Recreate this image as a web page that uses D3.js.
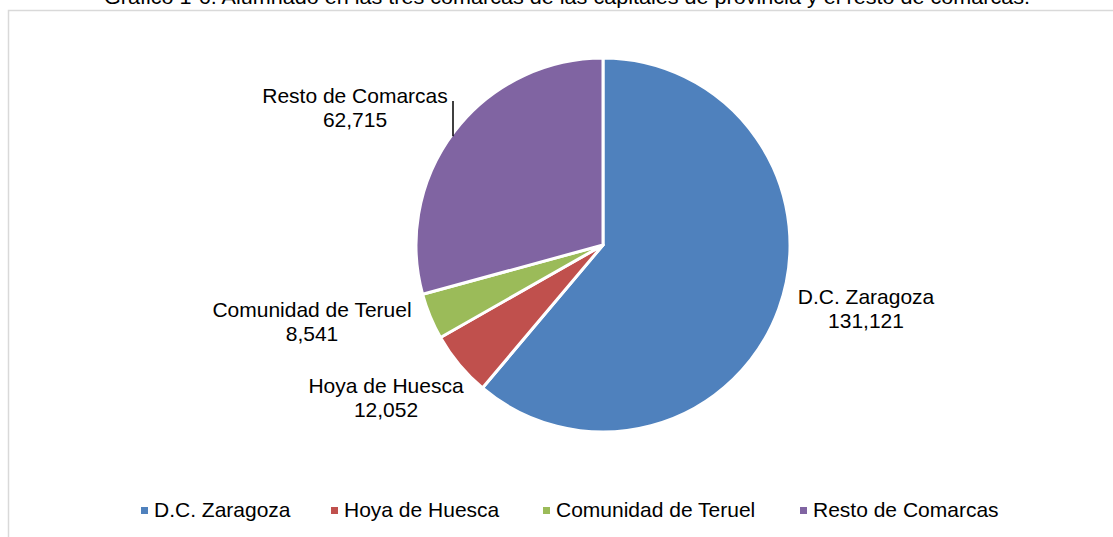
<!DOCTYPE html>
<html>
<head>
<meta charset="utf-8">
<script src="https://cdn.jsdelivr.net/npm/d3@7"></script>
<style>
  html, body { margin: 0; padding: 0; background: #fff; }
  svg { display: block; font-family: "Liberation Sans", Arial, sans-serif; }
</style>
</head>
<body>
<script>
var categories = ['D.C. Zaragoza', 'Hoya de Huesca', 'Comunidad de Teruel', 'Resto de Comarcas']
var values = [131121, 12052, 8541, 62715]
var colors = ['#4F81BD', '#C0504D', '#9BBB59', '#8064A2']
var title = 'Gráfico 1-6. Alumnado en las tres comarcas de las capitales de provincia y el resto de comarcas.'

var width = 1113
var height = 537
var cx = 603
var cy = 245
var radius = 187

// where Excel put each data label (offset from pie centre)
var labelPos = [[263, 59], [-217, 148], [-291, 72], [-248, -142]]

var svg = d3.select('body').append('svg')
  .attr('width', width)
  .attr('height', height)

svg.append('rect')
  .attr('x', 8.5)
  .attr('y', 10.5)
  .attr('width', width + 10)
  .attr('height', height + 10)
  .attr('fill', '#fff')
  .attr('stroke', '#d9d9d9')
  .attr('stroke-width', 1.5)

svg.append('text')
  .text(title)
  .attr('x', 567)
  .attr('y', 4)
  .attr('text-anchor', 'middle')
  .attr('font-size', 21)
  .attr('textLength', 926)
  .attr('lengthAdjust', 'spacingAndGlyphs')
  .attr('fill', '#000')

var data = categories.map((c, i) => ({ name: c, value: values[i], color: colors[i], lp: labelPos[i] }))

var pie = d3.pie().sort(null).value(d => d.value)
var arc = d3.arc().innerRadius(0).outerRadius(radius)

var g = svg.append('g').attr('transform', 'translate(' + cx + ',' + cy + ')')

g.selectAll('path')
  .data(pie(data))
  .join('path')
  .attr('d', arc)
  .attr('fill', d => d.data.color)
  .attr('stroke', '#fff')
  .attr('stroke-width', 3)
  .attr('stroke-linejoin', 'round')

var fmt = d3.format(',')

var labels = g.selectAll('g.lbl')
  .data(data)
  .join('g')
  .attr('class', 'lbl')
  .attr('transform', d => 'translate(' + d.lp[0] + ',' + d.lp[1] + ')')

labels.append('text')
  .attr('text-anchor', 'middle')
  .attr('font-size', 21)
  .attr('fill', '#000')
  .text(d => d.name)

labels.append('text')
  .attr('text-anchor', 'middle')
  .attr('font-size', 21)
  .attr('y', 24)
  .attr('fill', '#000')
  .text(d => fmt(d.value))

// leader line for the last label
var last = data[3]
var lx = -150
var ly = -Math.sqrt(radius * radius - lx * lx)
g.append('line')
  .attr('x1', lx).attr('y1', last.lp[1] - 2)
  .attr('x2', lx).attr('y2', ly + 3)
  .attr('stroke', '#000')
  .attr('stroke-width', 1.5)

// legend
var legendX = [141, 331, 543, 800]
var legend = svg.append('g')
  .selectAll('g')
  .data(data)
  .join('g')
  .attr('transform', (d, i) => 'translate(' + legendX[i] + ',510)')

legend.append('rect')
  .attr('x', 0).attr('y', -3)
  .attr('width', 7).attr('height', 7)
  .attr('fill', d => d.color)

legend.append('text')
  .attr('x', 13)
  .attr('y', 7)
  .attr('font-size', 21)
  .attr('fill', '#000')
  .text(d => d.name)
</script>
</body>
</html>
